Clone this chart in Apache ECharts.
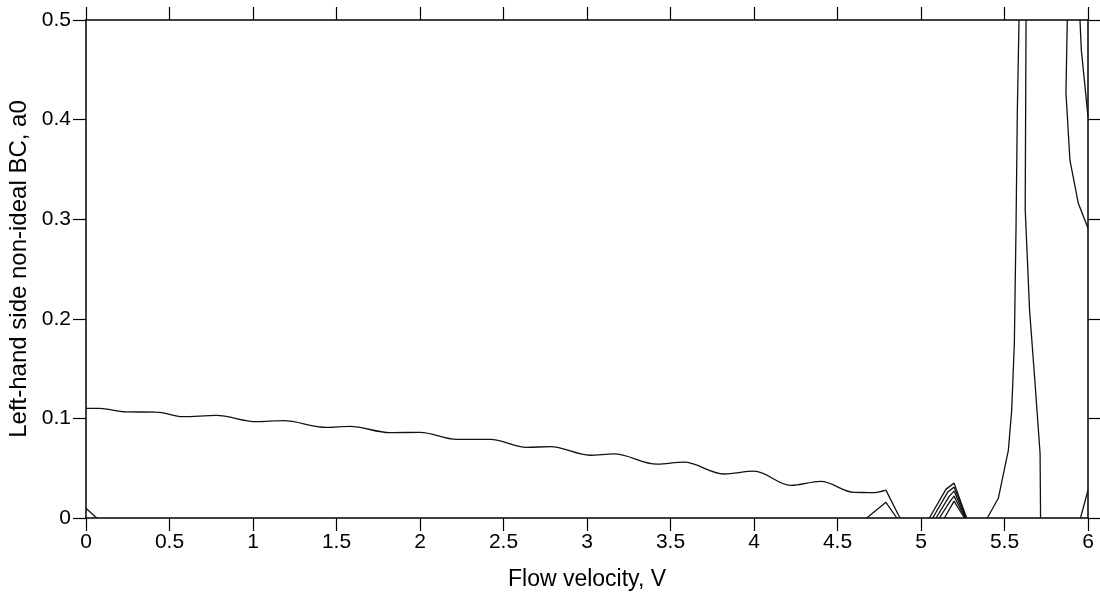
<!DOCTYPE html>
<html>
<head>
<meta charset="utf-8">
<script src="https://cdn.jsdelivr.net/npm/echarts@6/dist/echarts.min.js"></script>
<style>
html,body{margin:0;padding:0;background:#fff;}
#chart{width:1100px;height:597px;}
</style>
</head>
<body>
<div id="chart"></div>
<script>
// Axis ticks
const xTicks = [0, 0.5, 1, 1.5, 2, 2.5, 3, 3.5, 4, 4.5, 5, 5.5, 6];
const yTicks = [0, 0.1, 0.2, 0.3, 0.4, 0.5];

// Curves: [flow velocity V, a0]
const mainCurve = [
  [0, 0.110], [0.08, 0.110], [0.24, 0.1065], [0.42, 0.1064], [0.58, 0.1017], [0.78, 0.1030],
  [1.02, 0.0967], [1.18, 0.0977], [1.44, 0.0910], [1.58, 0.0920], [1.82, 0.0857], [2.0, 0.0860],
  [2.22, 0.0790], [2.42, 0.0790], [2.64, 0.0710], [2.78, 0.0716], [3.02, 0.0630], [3.16, 0.0643],
  [3.42, 0.0540], [3.58, 0.0560], [3.82, 0.0442], [4.0, 0.0470], [4.22, 0.0328], [4.4, 0.0368],
  [4.6, 0.0258], [4.71, 0.0254], [4.79, 0.0280]
];
const mainTail = [[4.79, 0.0280], [4.874, 0]];
const leftCorner = [[0, 0.0097], [0.064, 0]];
const hump48 = [[4.675, 0], [4.79, 0.0157], [4.855, 0]];
const hump52a = [[5.05, 0], [5.15, 0.029], [5.198, 0.035], [5.273, 0]];
const hump52b = [[5.07, 0], [5.16, 0.026], [5.198, 0.031], [5.273, 0]];
const hump52c = [[5.09, 0], [5.17, 0.022], [5.198, 0.027], [5.268, 0]];
const hump52d = [[5.11, 0], [5.175, 0.017], [5.198, 0.022], [5.265, 0]];
const hump52e = [[5.14, 0], [5.198, 0.017], [5.26, 0]];
const spikeRise = [
  [5.397, 0], [5.463, 0.0198], [5.523, 0.068], [5.543, 0.108], [5.559, 0.176],
  [5.569, 0.292], [5.577, 0.41], [5.587, 0.5]
];
const spikeFall = [[5.629, 0.5], [5.624, 0.31], [5.65, 0.209], [5.68, 0.142], [5.713, 0.065], [5.716, 0]];
const rightA = [[5.876, 0.5], [5.868, 0.427], [5.892, 0.359], [5.942, 0.316], [6.0, 0.291]];
const rightB = [[5.952, 0.5], [5.96, 0.47], [6.0, 0.403]];
const rightC = [[5.955, 0], [6.0, 0.028]];

const curves = [mainCurve, mainTail, leftCorner, hump48, hump52a, hump52b, hump52c, hump52d, hump52e,
  spikeRise, spikeFall, rightA, rightB, rightC];

const FONT = '"Liberation Sans", Arial, sans-serif';
const axisLine = {show: true, onZero: false, lineStyle: {color: '#000', width: 1.5}};
const tickStyle = {show: true, inside: false, length: 13, lineStyle: {color: '#000', width: 1.2}};

const chart = echarts.init(document.getElementById('chart'), null, {renderer: 'canvas'});
chart.setOption({
  animation: false,
  backgroundColor: '#fff',
  grid: {left: 86, right: 12, top: 20, bottom: 79, containLabel: false, outerBoundsMode: 'none'},
  xAxis: [
    {
      type: 'value', position: 'bottom', min: xTicks[0], max: xTicks[xTicks.length - 1], interval: 0.5,
      name: 'Flow velocity, V', nameLocation: 'middle', nameGap: 50,
      nameTextStyle: {fontFamily: FONT, fontSize: 23, color: '#000'},
      axisLine: axisLine, axisTick: tickStyle, splitLine: {show: false},
      axisLabel: {fontFamily: FONT, fontSize: 21, color: '#000', margin: 14,
        formatter: v => String(xTicks.find(t => Math.abs(t - v) < 1e-9) ?? v)}
    },
    {
      type: 'value', position: 'top', min: xTicks[0], max: xTicks[xTicks.length - 1], interval: 0.5,
      axisLine: axisLine, axisTick: tickStyle, axisLabel: {show: false}, splitLine: {show: false}
    }
  ],
  yAxis: [
    {
      type: 'value', position: 'left', min: yTicks[0], max: yTicks[yTicks.length - 1], interval: 0.1,
      name: 'Left-hand side non-ideal BC, a0', nameLocation: 'middle', nameGap: 54, nameRotate: 90,
      nameTextStyle: {fontFamily: FONT, fontSize: 24, color: '#000'},
      axisLine: axisLine, axisTick: tickStyle, splitLine: {show: false},
      axisLabel: {fontFamily: FONT, fontSize: 21, color: '#000', margin: 15,
        formatter: v => String(yTicks.find(t => Math.abs(t - v) < 1e-9) ?? v)}
    },
    {
      type: 'value', position: 'right', min: yTicks[0], max: yTicks[yTicks.length - 1], interval: 0.1,
      axisLine: axisLine, axisTick: tickStyle, axisLabel: {show: false}, splitLine: {show: false}
    }
  ],
  series: curves.map((d, i) => ({
    type: 'line',
    data: d,
    xAxisIndex: 0, yAxisIndex: 0,
    showSymbol: false,
    smooth: i === 0 ? 0.35 : false,
    smoothMonotone: i === 0 ? 'x' : undefined,
    clip: true,
    lineStyle: {color: '#111', width: 1.3},
    silent: true
  }))
});
</script>
</body>
</html>
